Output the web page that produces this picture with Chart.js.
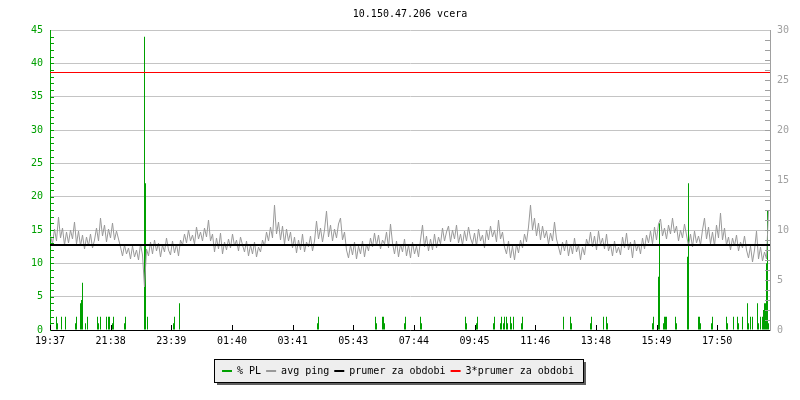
<!DOCTYPE html>
<html>
<head>
<meta charset="utf-8">
<style>
  html, body { margin: 0; padding: 0; background: #fff; }
  canvas { display: block; }
</style>
<script src="https://cdn.jsdelivr.net/npm/chart.js@4.4.1/dist/chart.umd.min.js"></script>
</head>
<body>
<canvas id="graf" width="800" height="400"></canvas>
<script>
// data: cas v minutach od 19:37
const nazev = '10.150.47.206 vcera';
const popiskyCasu = ['19:37', '21:38', '23:39', '01:40', '03:41', '05:43', '07:44', '09:45', '11:46', '13:48', '15:49', '17:50'];
const krokPopisku = 121.3;
const delkaObdobi = 1440;

const nazvyRad = ['% PL', 'avg ping', 'prumer za obdobi', '3*prumer za obdobi'];

// % PL (leva osa)
const ztratyCas = [13, 15, 23, 31, 51, 53, 61, 63, 65, 71, 75, 95, 97, 101, 113, 117, 119, 125, 127, 149, 151,
    189, 191, 195, 247, 249, 259, 535, 537, 651, 653, 665, 667, 669, 709, 711, 741, 743, 831, 833, 853, 855,
    887, 889, 901, 903, 907, 909, 913, 915, 921, 923, 927, 943, 945, 1027, 1041, 1043, 1081, 1083, 1107,
    1113, 1115, 1205, 1207, 1217, 1219, 1227, 1229, 1231, 1233, 1251, 1253, 1275, 1277, 1297, 1299, 1301,
    1323, 1325, 1353, 1355, 1367, 1375, 1377, 1385, 1395, 1397, 1401, 1405, 1415, 1417, 1421, 1425, 1427,
    1429, 1431, 1433, 1435, 1437];
const ztratyHodnota = [2, 1, 2, 2, 1, 2, 4, 4.5, 7.1, 1, 2, 2, 1, 2, 2, 2, 2, 1, 2, 1, 2,
    44, 22, 2, 1, 2, 4, 1, 2, 2, 1, 2, 2, 1, 1, 2, 2, 1, 2, 1, 1, 2,
    1, 2, 1, 2, 1, 2, 2, 1, 2, 1, 2, 1, 2, 2, 2, 1, 1, 2, 2,
    2, 1, 1, 2, 8, 16, 1, 2, 2, 2, 2, 1, 11, 22, 2, 2, 1,
    1, 2, 2, 1, 2, 2, 1, 2, 4, 1, 2, 2, 4, 1, 2, 2, 3,
    4, 4, 10, 18, 1];

// avg ping (prava osa), vzorek kazde 4 minuty
const pingZacatek = 1;
const pingKrok = 4;
const pingHodnoty = [
    9.4, 8.6, 10.1, 8.9, 11.3, 9.2, 10.2, 8.5, 9.8, 8.7, 10.0, 9.1, 10.8, 8.6, 9.9, 8.4, 9.5, 8.1, 9.3, 8.4,
    9.6, 8.2, 9.0, 10.2, 8.9, 11.2, 9.4, 10.5, 8.8, 10.1, 9.2, 10.7, 9.0, 9.9, 9.1, 8.3, 7.4, 8.5, 7.6, 8.2,
    7.1, 8.4, 7.3, 8.0, 7.0, 8.6, 7.5, 4.3, 8.1, 7.4, 8.8, 7.6, 9.0, 7.9, 8.7, 7.3, 8.5, 7.8, 9.2, 8.0,
    7.5, 8.9, 7.7, 8.6, 7.4, 9.0, 8.5, 9.6, 8.7, 10.0, 8.9, 9.5, 8.6, 10.3, 9.1, 9.8, 8.9, 10.2, 9.3, 11.0,
    8.9, 9.6, 7.8, 9.2, 8.1, 9.7, 7.6, 8.8, 8.0, 9.1, 8.2, 9.6, 8.4, 9.0, 7.9, 9.3, 8.5, 7.8, 8.9, 7.4,
    8.5, 7.6, 8.8, 7.3, 8.3, 7.8, 9.0, 8.4, 9.8, 8.9, 10.3, 9.2, 12.5, 9.6, 10.8, 9.0, 10.4, 8.6, 10.1, 8.9,
    9.8, 8.2, 9.3, 7.7, 9.0, 8.0, 9.6, 7.8, 8.8, 8.3, 9.4, 7.9, 8.9, 10.9, 9.1, 10.2, 8.8, 10.0, 11.9, 9.3,
    10.5, 8.9, 10.1, 9.2, 10.6, 11.2, 9.0, 9.8, 8.0, 7.2, 8.5, 7.5, 8.8, 7.1, 8.4, 7.6, 8.9, 7.3, 8.6, 7.9,
    9.2, 8.3, 9.7, 8.4, 9.5, 8.1, 9.0, 8.6, 9.8, 8.2, 10.6, 8.7, 7.6, 8.9, 7.3, 8.6, 7.8, 9.1, 7.4, 8.5,
    7.2, 8.8, 7.6, 8.4, 7.3, 9.0, 10.5, 8.3, 9.4, 7.9, 9.1, 8.0, 9.6, 8.2, 9.3, 8.6, 10.2, 8.9, 9.8, 10.4,
    8.8, 10.0, 9.1, 10.5, 8.7, 9.6, 8.5, 9.9, 8.9, 10.3, 9.2, 8.6, 9.7, 8.4, 10.1, 8.9, 9.5, 8.2, 10.0, 9.0,
    10.4, 9.3, 10.0, 8.8, 11.0, 9.1, 9.8, 8.3, 7.6, 8.9, 7.2, 8.4, 7.0, 8.6, 7.7, 9.0, 8.2, 9.6, 8.8, 10.3,
    12.5, 10.0, 11.2, 9.4, 10.7, 9.0, 10.4, 9.2, 9.9, 8.6, 9.7, 8.9, 10.8, 9.1, 8.3, 7.5, 8.8, 7.9, 9.0, 7.4,
    8.6, 7.6, 9.2, 7.8, 8.5, 7.0, 8.3, 7.5, 9.1, 8.4, 9.8, 8.3, 9.4, 8.0, 9.9, 8.5, 9.2, 8.1, 9.6, 7.9,
    8.6, 7.4, 8.9, 7.7, 8.3, 7.5, 9.3, 8.2, 9.7, 8.0, 8.8, 7.2, 9.0, 7.9, 8.6, 7.6, 9.2, 8.1, 9.5, 8.7,
    9.9, 8.6, 10.3, 9.0, 10.6, 11.1, 9.4, 10.2, 9.1, 10.5, 9.6, 11.2, 9.7, 10.4, 8.9, 10.0, 9.2, 10.6, 9.5, 8.4,
    9.6, 8.3, 9.9, 8.7, 9.4, 8.5, 10.0, 11.2, 9.1, 10.3, 8.6, 9.8, 8.4, 10.5, 9.2, 11.7, 9.0, 10.2, 8.5, 9.3,
    8.0, 9.2, 8.4, 9.5, 7.9, 8.8, 8.2, 9.4, 8.0, 7.2, 8.4, 6.8, 8.0, 9.9, 7.1, 8.3, 6.9, 7.8, 7.1, 12.0
];
const prumer = 8.5;
const triPrumer = 25.75;

const zelena = '#00a000';
const seda = '#999999';
const barvyRad = [zelena, seda, '#000000', '#ff0000'];

Chart.defaults.font.family = "'DejaVu Sans Mono', monospace";
Chart.defaults.font.size = 10;
Chart.defaults.color = '#000';

const polohyPopisku = popiskyCasu.map((_, i) => i * krokPopisku);

const doplnky = {
    id: 'doplnky',
    beforeDraw(chart) {
        const hb = chart.legend && chart.legend.legendHitBoxes;
        if (!hb || !hb.length) return;
        const ctx = chart.ctx;
        const stred = hb[0].top + 5;
        const x1 = Math.round(hb[0].left - 8);
        const x2 = Math.round(hb[hb.length - 1].left + hb[hb.length - 1].width + 9);
        const y1 = Math.round(stred - 12), y2 = Math.round(stred + 11);
        ctx.save();
        ctx.fillStyle = '#606060';
        ctx.fillRect(x1 + 3, y1 + 3, x2 - x1, y2 - y1);
        ctx.fillStyle = '#eeeeee';
        ctx.fillRect(x1, y1, x2 - x1, y2 - y1);
        ctx.strokeStyle = '#000';
        ctx.lineWidth = 1;
        ctx.strokeRect(x1 + 0.5, y1 + 0.5, x2 - x1, y2 - y1);
        ctx.restore();
    },
    afterDraw(chart) {
        const { ctx, chartArea: a, scales } = chart;
        ctx.save();
        ctx.lineWidth = 1;
        ctx.strokeStyle = zelena;
        ctx.beginPath();
        for (let v = 1; v < 45; v++) {
            const y = Math.round(scales.y.getPixelForValue(v)) + 0.5;
            ctx.moveTo(a.left, y); ctx.lineTo(a.left + 4, y);
        }
        ctx.stroke();
        ctx.strokeStyle = '#a0a0a0';
        ctx.beginPath();
        for (let v = 1; v < 30; v++) {
            const y = Math.round(scales.y1.getPixelForValue(v)) + 0.5;
            ctx.moveTo(a.right - 5, y); ctx.lineTo(a.right, y);
        }
        ctx.stroke();
        ctx.strokeStyle = '#000';
        ctx.beginPath();
        polohyPopisku.forEach(p => {
            const x = Math.round(scales.x.getPixelForValue(p)) + 0.5;
            ctx.moveTo(x, a.bottom); ctx.lineTo(x, a.bottom - 5);
        });
        ctx.stroke();
        ctx.restore();
    }
};

new Chart(document.getElementById('graf'), {
    type: 'bar',
    data: {
        datasets: [
            {
                type: 'line', label: nazvyRad[3], yAxisID: 'y1', order: 1,
                data: [{ x: 0, y: triPrumer }, { x: delkaObdobi, y: triPrumer }],
                borderColor: barvyRad[3], borderWidth: 1, pointRadius: 0
            },
            {
                type: 'line', label: nazvyRad[2], yAxisID: 'y1', order: 2,
                data: [{ x: 0, y: prumer }, { x: delkaObdobi, y: prumer }],
                borderColor: barvyRad[2], borderWidth: 2, pointRadius: 0
            },
            {
                type: 'line', label: nazvyRad[1], yAxisID: 'y1', order: 3,
                data: pingHodnoty.map((v, i) => ({ x: pingZacatek + i * pingKrok, y: v })),
                borderColor: barvyRad[1], borderWidth: 1, pointRadius: 0, tension: 0
            },
            {
                type: 'bar', label: nazvyRad[0], yAxisID: 'y', order: 4,
                data: ztratyCas.map((t, i) => ({ x: t, y: ztratyHodnota[i] })),
                backgroundColor: barvyRad[0], borderWidth: 0, barThickness: 1,
                inflateAmount: 0, grouped: false
            }
        ]
    },
    options: {
        responsive: false,
        animation: false,
        layout: { padding: { left: 0, right: 4, top: 0, bottom: 14 } },
        plugins: {
            tooltip: { enabled: false },
            title: {
                display: true, text: nazev, fullSize: false,
                padding: { top: 8, bottom: 10 },
                font: { size: 10, weight: 'normal' }, color: '#000'
            },
            legend: {
                position: 'bottom',
                labels: {
                    boxWidth: 10, boxHeight: 2, padding: 5, color: '#000',
                    generateLabels: () => nazvyRad.map((t, i) => ({
                        text: t, fillStyle: barvyRad[i], strokeStyle: barvyRad[i],
                        lineWidth: 0, hidden: false, datasetIndex: 3 - i
                    }))
                }
            }
        },
        scales: {
            x: {
                type: 'linear', min: 0, max: delkaObdobi, offset: false,
                grid: { display: false, drawTicks: false },
                border: { color: '#000', width: 1 },
                afterBuildTicks: s => { s.ticks = polohyPopisku.map(v => ({ value: v })); },
                afterFit: s => { s.height = 31; },
                ticks: {
                    autoSkip: false, maxRotation: 0, minRotation: 0, padding: 5, color: '#000',
                    callback: (v, i) => popiskyCasu[i]
                }
            },
            y: {
                position: 'left', min: 0, max: 45,
                grid: { color: '#c4c4c4', drawTicks: false },
                border: { color: zelena, width: 1 },
                afterFit: s => { s.width = 50; },
                ticks: { stepSize: 5, padding: 7, color: zelena }
            },
            y1: {
                position: 'right', min: 0, max: 30,
                grid: { display: false, drawTicks: false },
                border: { color: '#a0a0a0', width: 1 },
                afterFit: s => { s.width = 26; },
                ticks: { stepSize: 5, padding: 7, color: '#a0a0a0' }
            }
        }
    },
    plugins: [doplnky]
});
</script>
</body>
</html>
